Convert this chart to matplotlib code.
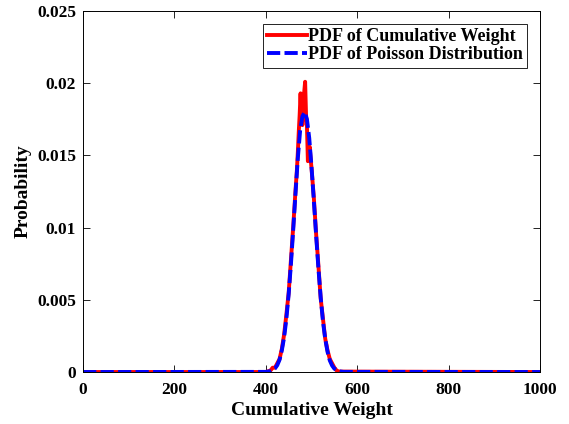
import numpy as np
import matplotlib.pyplot as plt

# Empirical PDF of the cumulative weight
weight_x = [0, 400, 405, 410, 415, 420, 425, 430, 435, 440, 445, 450, 455, 460,
            465, 468, 470, 472, 474, 476, 478, 480, 482, 484, 486, 488, 490, 492,
            494, 496, 498, 500, 505, 510, 515, 520, 525, 530, 535, 540, 545, 550,
            555, 560, 1000]
weight_pdf = [0, 0, 0.00005, 0.0001, 0.0003, 0.0003, 0.0006, 0.0009, 0.0016,
              0.0026, 0.0040, 0.0055, 0.0078, 0.0101, 0.0126, 0.0140, 0.0152,
              0.0166, 0.0178, 0.0193, 0.0175, 0.0171, 0.0181, 0.0194, 0.0201,
              0.0178, 0.0170, 0.0146, 0.0149, 0.0156, 0.0148, 0.0141, 0.0121,
              0.0096, 0.0074, 0.0051, 0.0037, 0.0023, 0.0015, 0.0009, 0.0006,
              0.0003, 0.0001, 0.00003, 0]

# Fitted Poisson PDF
poisson_x = [0, 400, 410, 420, 425, 430, 435, 440, 445, 450, 455, 460, 465, 470,
             475, 480, 485, 490, 495, 500, 505, 510, 515, 520, 525, 530, 535,
             540, 545, 550, 560, 570, 1000]
poisson_pdf = [0, 0.00001, 0.00006, 0.00025, 0.00047, 0.00085, 0.0015, 0.0024,
               0.0037, 0.0054, 0.0075, 0.0099, 0.0124, 0.0148, 0.0167, 0.0177,
               0.0180, 0.0175, 0.0162, 0.0142, 0.0119, 0.0095, 0.0072, 0.0052,
               0.0035, 0.0023, 0.0014, 0.0008, 0.00045, 0.00023, 0.00005,
               0.00001, 0]

x_ticks = [0, 200, 400, 600, 800, 1000]
y_ticks = [0, 0.005, 0.01, 0.015, 0.02, 0.025]
y_tick_labels = ["0", "0.005", "0.01", "0.015", "0.02", "0.025"]

plt.rcParams["font.family"] = ["Liberation Serif", "DejaVu Serif"]
plt.rcParams["font.weight"] = "bold"

fig = plt.figure(figsize=(5.69, 4.24), dpi=100)
ax = fig.add_axes([0.146, 0.1226, 0.803, 0.8514])

ax.plot(weight_x, weight_pdf, color="red", lw=2.8, label="PDF of Cumulative Weight")
ax.plot(poisson_x, poisson_pdf, color="blue", lw=2.8, dashes=(3.4, 1.1),
        label="PDF of Poisson Distribution")

ax.set_xlim(0, 1000)
ax.set_ylim(0, 0.025)
ax.set_xticks(x_ticks)
ax.set_yticks(y_ticks)
ax.set_yticklabels(y_tick_labels)
ax.tick_params(direction="in", length=5, width=0.6, top=True, right=True,
               labelsize=12.5)
ax.tick_params(axis="x", pad=7)
ax.tick_params(axis="y", pad=5)
for lab in ax.get_xticklabels() + ax.get_yticklabels():
    lab.set_fontweight("bold")
for sp in ax.spines.values():
    sp.set_linewidth(0.7)

ax.set_xlabel("Cumulative Weight", fontsize=14, fontweight="bold", labelpad=3)
ax.set_ylabel("Probability", fontsize=14, fontweight="bold", labelpad=4)

leg = ax.legend(loc="upper right", fontsize=13, handlelength=2.2,
                handletextpad=0.05, borderpad=0.25, labelspacing=0.05,
                fancybox=False, framealpha=1, borderaxespad=0.7)
leg.get_frame().set_edgecolor("black")
leg.get_frame().set_linewidth(0.6)
for t in leg.get_texts():
    t.set_fontweight("bold")

fig.savefig("out.png", dpi=100)
